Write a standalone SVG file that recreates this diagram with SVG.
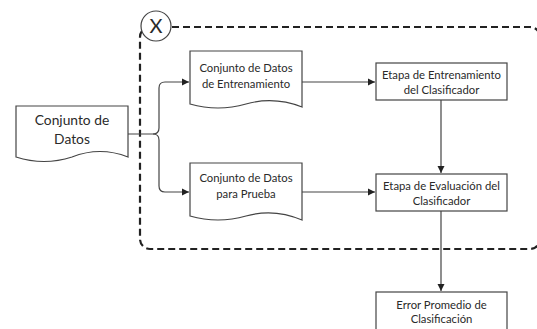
<svg xmlns="http://www.w3.org/2000/svg" width="537" height="329" viewBox="0 0 537 329">
<style>
.shape{fill:#fff;stroke:#444;stroke-width:1.2}
.conn{fill:none;stroke:#444;stroke-width:1.2}
.dash{fill:none;stroke:#222;stroke-width:2.2;stroke-dasharray:7,4}
text{font-family:Lato,"Open Sans","Liberation Sans",sans-serif;fill:#2a2a2a;text-anchor:middle}
.t11{font-size:11.3px}
.t14{font-size:13.8px}
</style>
<defs>
<marker id="arr" markerWidth="8" markerHeight="8" refX="7" refY="4" orient="auto" markerUnits="userSpaceOnUse">
<path d="M0,0.5 L7,4 L0,7.5 Z" fill="#222"/>
</marker>
</defs>
<g id="loop">
<rect class="dash" x="140" y="27" width="400" height="222" rx="10"/>
<circle cx="156" cy="26" r="15" fill="#fff" stroke="#444" stroke-width="1.2"/>
<text x="156" y="33" style="font-size:20px">X</text>
</g>
<g id="connectors">
<path class="conn" d="M128,134 H153 Q159,134 159,128 V88 Q159,82 165,82 H189" marker-end="url(#arr)"/>
<path class="conn" d="M153,134 Q159,134 159,140 V186 Q159,192 165,192 H189" marker-end="url(#arr)"/>
<path class="conn" d="M302,82 H375" marker-end="url(#arr)"/>
<path class="conn" d="M302,192 H375" marker-end="url(#arr)"/>
<path class="conn" d="M441,100 V173" marker-end="url(#arr)"/>
<path class="conn" d="M441,211 V291" marker-end="url(#arr)"/>
</g>
<g id="datos">
<path class="shape" d="M16,106 H128 V157 Q100,146 72,157 Q44,166 16,157 Z"/>
<text class="t14" x="72" y="125">Conjunto de</text>
<text class="t14" x="72" y="144">Datos</text>
</g>
<g id="entrenamiento-datos">
<path class="shape" d="M190,51 H302 V107 Q274,96 246,104 Q218,112 190,104 Z"/>
<text class="t11" x="246" y="72">Conjunto de Datos</text>
<text class="t11" x="246" y="88">de Entrenamiento</text>
</g>
<g id="prueba-datos">
<path class="shape" d="M190,163 H302 V220 Q274,208 246,216 Q218,224 190,216 Z"/>
<text class="t11" x="246" y="182">Conjunto de Datos</text>
<text class="t11" x="246" y="198">para Prueba</text>
</g>
<g id="etapa-entrenamiento">
<rect class="shape" x="376" y="63" width="131" height="37"/>
<text class="t11" x="441.5" y="79">Etapa de Entrenamiento</text>
<text class="t11" x="441.5" y="94">del Clasificador</text>
</g>
<g id="etapa-evaluacion">
<rect class="shape" x="376" y="174" width="131" height="37"/>
<text class="t11" x="441.5" y="190">Etapa de Evaluación del</text>
<text class="t11" x="441.5" y="205">Clasificador</text>
</g>
<g id="error">
<rect class="shape" x="376" y="292" width="131" height="50"/>
<text class="t11" x="441.5" y="309">Error Promedio de</text>
<text class="t11" x="441.5" y="323">Clasificación</text>
</g>
</svg>
